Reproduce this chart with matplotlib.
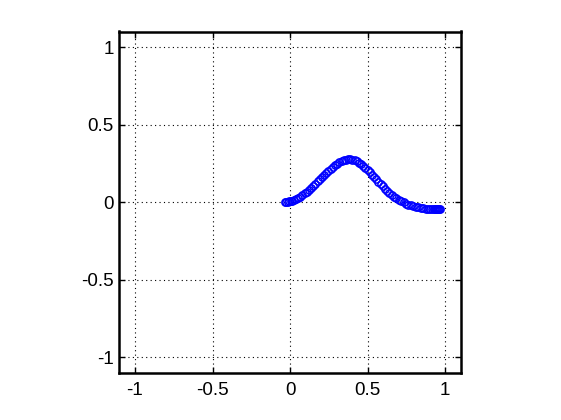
import matplotlib
matplotlib.use("Agg")
import matplotlib.pyplot as plt

x_vals = [-0.035, -0.025, -0.015, -0.005, 0.005, 0.015, 0.027, 0.04, 0.053, 0.066,
          0.08, 0.094, 0.108, 0.122, 0.136, 0.15, 0.164, 0.178, 0.192, 0.206,
          0.22, 0.234, 0.248, 0.262, 0.276, 0.29, 0.304, 0.318, 0.332, 0.346,
          0.36, 0.374, 0.388, 0.402, 0.416, 0.43, 0.444, 0.458, 0.472, 0.486,
          0.5, 0.514, 0.528, 0.542, 0.556, 0.57, 0.584, 0.598, 0.612, 0.626,
          0.64, 0.655, 0.67, 0.685, 0.7, 0.716, 0.732, 0.748, 0.764, 0.78,
          0.796, 0.812, 0.828, 0.844, 0.86, 0.875, 0.89, 0.903, 0.915, 0.926,
          0.936, 0.944, 0.951, 0.957, 0.962, 0.966]
y_vals = [0.000, 0.001, 0.002, 0.004, 0.006, 0.009, 0.014, 0.020, 0.027, 0.035,
          0.045, 0.055, 0.066, 0.079, 0.092, 0.105, 0.119, 0.133, 0.147, 0.161,
          0.175, 0.189, 0.203, 0.215, 0.227, 0.238, 0.248, 0.256, 0.263, 0.269,
          0.274, 0.276, 0.276, 0.274, 0.269, 0.262, 0.253, 0.243, 0.231, 0.219,
          0.205, 0.191, 0.176, 0.161, 0.146, 0.131, 0.116, 0.101, 0.087, 0.073,
          0.060, 0.047, 0.035, 0.024, 0.014, 0.005, -0.003, -0.010, -0.016, -0.022,
          -0.027, -0.031, -0.035, -0.038, -0.040, -0.042, -0.044, -0.045, -0.046, -0.047,
          -0.047, -0.048, -0.048, -0.048, -0.048, -0.048]

ticks = [-1, -0.5, 0, 0.5, 1]
tick_labels = ["-1", "-0.5", "0", "0.5", "1"]

plt.rcParams['font.family'] = ['Liberation Sans', 'DejaVu Sans']

fig = plt.figure(figsize=(5.61, 4.20), dpi=100)
ax = fig.add_axes([0.213, 0.113, 0.608, 0.812])
ax.plot(x_vals, y_vals, linestyle='none', marker='o', markersize=5.2,
        markerfacecolor='none', markeredgecolor='#0000FF', markeredgewidth=1.1)
ax.set_xlim(-1.1, 1.1)
ax.set_ylim(-1.1, 1.1)
ax.set_xticks(ticks)
ax.set_xticklabels(tick_labels)
ax.set_yticks(ticks)
ax.set_yticklabels(tick_labels)
ax.grid(True, color='black', linestyle=(0, (1, 3)), linewidth=0.8)
ax.tick_params(direction='in', length=4, width=1, top=True, right=True,
               labelsize=13.5, pad=7)
ax.tick_params(axis='y', pad=4)
for s in ax.spines.values():
    s.set_linewidth(1.8)
fig.savefig("out.png", dpi=100)
